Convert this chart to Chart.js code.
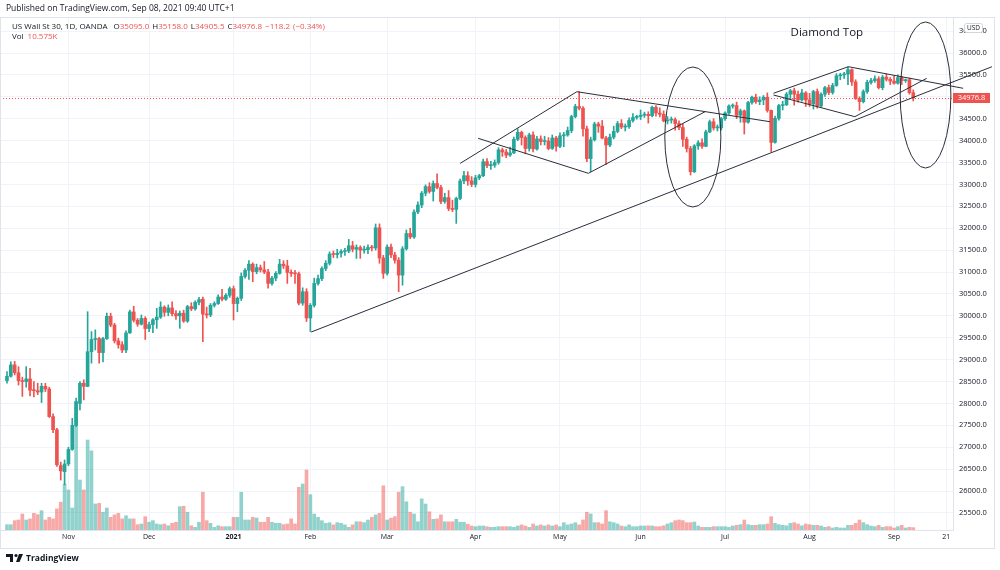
<!DOCTYPE html>
<html>
<head>
<meta charset="utf-8">
<script src="https://cdn.jsdelivr.net/npm/chart.js@4.4.0/dist/chart.umd.min.js"></script>
<style>
html, body { margin: 0; background: #fff; }
canvas { display: block; }
</style>
</head>
<body>
<canvas id="chart" width="1000" height="570"></canvas>
<script>
// daily bars, US Wall St 30 (OANDA), 9 Oct 2020 .. 8 Sep 2021
var opens = [
  28520,28620,28880,28700,28520,28500,28560,28300,28290,28260,
  28390,28330,27700,27400,26580,26440,26620,26950,27500,28000,
  28460,28390,29180,29460,29480,29160,29480,29990,29790,29430,
  29340,29220,29610,30090,29900,29810,29940,29710,29800,29910,
  29970,30200,30080,30180,30050,30000,30060,29880,30210,30160,
  30310,30380,30040,30020,30240,30280,30430,30380,30470,30620,
  30280,30400,30900,31040,31180,31010,31100,31050,31000,30740,
  30860,30970,31180,31140,30990,30970,30960,30290,30550,29950,
  30240,30740,30850,31080,31200,31410,31400,31430,31470,31480,
  31600,31520,31560,31500,31510,31560,31550,32010,31320,30970,
  31570,31390,31270,30930,31530,31880,31800,32370,32530,32800,
  32950,32840,33020,32930,32610,32700,32450,32430,32680,33080,
  33200,33080,33000,33150,33200,33520,33430,33440,33500,33790,
  33740,33670,33720,34030,34190,34070,33820,34130,33810,34040,
  33980,33990,33820,34060,33870,34110,34130,34230,34550,34780,
  34740,34270,33590,34020,34380,34330,34060,33900,34080,34210,
  34390,34310,34320,34460,34530,34550,34580,34600,34570,34760,
  34630,34600,34450,34470,34480,34390,34300,34030,33820,33290,
  33880,33950,33870,34200,34430,34290,34290,34500,34630,34790,
  34800,34580,34680,34420,34870,34990,34890,34930,34990,34690,
  33960,34510,34800,34820,35060,35140,35060,34930,35090,34930,
  34840,35120,34790,35060,35210,35100,35260,35480,35500,35520,
  35620,35340,34960,34890,35120,35330,35370,35410,35210,35450,
  35400,35360,35310,35440,35370,35390,35095
];
var highs = [
  28725,28950,28960,28840,28600,28840,28800,28500,28460,28460,
  28460,28370,27760,27430,26660,26710,27000,27660,28120,28500,
  28540,30095,29640,29680,29510,29510,30060,30060,29830,29490,
  29410,29660,30130,30220,29940,30020,29980,29860,29940,30170,
  30320,30230,30250,30320,30120,30110,30130,30240,30300,30340,
  30420,30430,30200,30280,30320,30480,30605,30510,30660,30680,
  30430,30980,31080,31260,31210,31180,31160,31240,31060,30900,
  31010,31290,31260,31270,31050,31040,31000,30640,30620,30280,
  30860,30930,31120,31260,31460,31480,31520,31510,31540,31745,
  31700,31620,31600,31590,31620,31610,32096,32100,31380,31620,
  31640,31450,31330,31580,31960,32000,32420,32600,32840,32990,
  33040,33080,33240,32980,32800,32860,32640,32710,33120,33300,
  33290,33180,33210,33230,33580,33590,33530,33560,33840,33830,
  33800,33850,34080,34270,34220,34110,34170,34200,34100,34110,
  34100,34070,34130,34100,34180,34190,34310,34580,34830,35118,
  34780,34330,34080,34420,34420,34460,34100,34150,34330,34440,
  34480,34380,34520,34620,34580,34700,34650,34660,34790,34800,
  34750,34680,34550,34540,34520,34450,34380,34080,33870,33910,
  34000,34040,34240,34470,34500,34360,34530,34660,34820,34840,
  34880,34720,34700,34900,35020,35060,35000,35030,35090,34700,
  34560,34830,34900,35100,35170,35200,35130,35170,35120,35080,
  35150,35180,35090,35240,35270,35310,35530,35540,35560,35680,
  35640,35390,35000,35160,35380,35420,35480,35460,35490,35520,
  35440,35480,35500,35470,35410,35430,35158
];
var lows = [
  28460,28600,28650,28420,28160,28370,28170,28150,28200,28020,
  28270,27680,27330,26560,26250,26140,26580,26930,27470,27850,
  28080,28380,28920,29220,28920,28950,29460,29750,29380,29260,
  29160,29160,29600,29860,29760,29790,29460,29640,29615,29714,
  29940,29990,30000,30000,29920,29714,29850,29850,30120,30130,
  30250,29410,29950,29980,30200,30260,30340,30350,30420,29905,
  30095,30350,30860,30830,30780,30960,31000,30960,30630,30700,
  30800,30950,31080,30740,30900,30740,30250,30240,29870,29640,
  30200,30700,30800,31030,31160,31330,31320,31340,31380,31440,
  31460,31310,31312,31430,31420,31480,31500,31200,30855,30930,
  31330,31200,30550,30700,31500,31760,31770,32330,32470,32740,
  32800,32620,32900,32560,32570,32400,32380,32110,32650,33020,
  32980,32950,32940,33110,33180,33380,33340,33390,33460,33640,
  33610,33640,33700,34000,33900,33700,33760,33740,33780,33900,
  33900,33790,33800,33760,33840,33860,34100,34180,34520,34700,
  34100,33520,33291,33990,34190,34040,33450,33860,34040,34180,
  34270,34220,34280,34420,34490,34480,34530,34400,34540,34560,
  34540,34430,34380,34400,34240,34250,33870,33740,33215,33270,
  33800,33820,33860,34180,34240,34220,34240,34460,34600,34740,
  34500,34420,34150,34400,34830,34850,34820,34820,34650,33740,
  33940,34470,34700,34800,34960,34810,34880,34900,34780,34780,
  34720,34740,34770,35010,35050,35060,35240,35390,35420,35280,
  35260,34940,34690,34860,35080,35290,35330,35180,35160,35360,
  35280,35290,35290,35280,35330,35060,34905.5
];
var closes = [
  28620,28880,28700,28520,28500,28560,28300,28290,28260,28390,
  28330,27700,27400,26600,26460,26617,26950,27500,28040,28460,
  28390,29180,29460,29480,29160,29480,29990,29790,29430,29340,
  29220,29610,30090,29900,29810,29940,29710,29800,29910,29970,
  30200,30080,30180,30050,30000,30060,29880,30210,30160,30310,
  30370,30040,30020,30240,30280,30430,30380,30470,30620,30280,
  30400,30900,31040,31180,31010,31100,31050,31000,30740,30860,
  30970,31180,31140,30990,30970,30960,30290,30550,29950,30240,
  30740,30850,31080,31200,31410,31400,31430,31470,31480,31600,
  31520,31560,31500,31510,31560,31550,32010,31320,30970,31570,
  31390,31270,30930,31530,31880,31800,32370,32530,32800,32950,
  32840,33020,32930,32610,32700,32450,32430,32680,33080,33200,
  33080,33000,33150,33200,33520,33430,33440,33500,33790,33740,
  33670,33720,34030,34190,34070,33820,34130,33810,34040,33980,
  33990,33820,34060,33870,34110,34130,34230,34550,34780,34740,
  34270,33590,34020,34380,34330,34060,33900,34080,34210,34390,
  34310,34320,34460,34530,34550,34580,34600,34570,34760,34630,
  34600,34450,34470,34480,34390,34300,34030,33820,33290,33880,
  33950,33870,34200,34430,34290,34290,34500,34630,34790,34800,
  34580,34680,34420,34870,34990,34890,34930,34990,34690,33960,
  34510,34800,34820,35060,35140,35060,34930,35090,34930,34840,
  35120,34790,35060,35210,35100,35260,35480,35500,35520,35620,
  35340,34960,34890,35120,35330,35370,35410,35210,35450,35400,
  35360,35310,35440,35370,35390,35095,34976.8
];
// volume, thousands
var volumes = [
  24,24,42,45,72,45,50,75,69,87,
  45,57,50,95,125,207,180,99,576,225,
  180,405,356,117,120,80,99,57,68,75,
  50,64,50,50,24,27,60,35,42,27,
  24,27,19,30,35,105,107,80,19,12,
  35,170,42,30,12,19,15,15,15,57,
  57,170,45,45,57,54,35,35,57,35,
  30,30,24,27,50,27,192,207,270,159,
  72,57,42,30,33,23,33,30,23,12,
  23,37,37,33,45,57,68,75,199,45,
  53,60,170,195,127,80,72,37,140,117,
  82,48,50,68,37,37,37,48,35,35,
  26,18,15,18,18,15,12,12,15,15,
  15,15,12,18,23,18,12,27,18,23,
  18,23,18,23,15,33,23,27,33,23,
  45,80,72,33,33,27,87,37,33,27,
  18,15,23,15,15,18,18,19,18,15,
  15,19,27,33,42,45,42,33,33,36,
  18,12,12,12,15,15,15,15,12,18,
  21,24,45,24,21,21,24,24,27,60,
  30,24,21,19,30,33,27,19,27,24,
  21,21,18,12,15,9,12,9,9,21,
  21,30,45,33,24,18,15,21,12,15,
  15,9,15,21,9,12,10.575
];

// time axis: bar index of each labelled day
var monthTicks = [16, 37, 59, 79, 99, 122, 144, 165, 187, 209, 231, 244.6];
var monthLabels = ['Nov', 'Dec', '2021', 'Feb', 'Mar', 'Apr', 'May', 'Jun', 'Jul', 'Aug', 'Sep', '21'];
// price axis
var priceTicks = [25500, 26000, 26500, 27000, 27500, 28000, 28500, 29000, 29500, 30000, 30500, 31000,
  31500, 32000, 32500, 33000, 33500, 34000, 34500, 35000, 35500, 36000, 36500];

// drawings on the chart: [barFrom, priceFrom, barTo, priceTo]
var trendLines = [
  [79.2, 29630, 256.5, 35688],
  [118.0, 33480, 148.4, 35117],
  [122.7, 34053, 151.4, 33254],
  [148.4, 35117, 198.7, 34432],
  [151.4, 33254, 181.8, 34661],
  [199.6, 35081, 219.1, 35688],
  [199.6, 35042, 220.8, 34547],
  [219.1, 35688, 249.0, 35195],
  [220.8, 34547, 239.5, 35423]
];
// [centreBar, centrePrice, radiusBars, radiusPrice]
var ellipses = [
  [178.6, 34083, 7.3, 1598],
  [239.2, 35042, 6.6, 1667]
];
var noteText = 'Diamond Top';
var notePos = [213.5, 36458];
var lastPrice = 34976.8;

var green = '#26a69a';
var red = '#ef5350';
var lineColor = '#2a2e39';
var gridColor = '#f0f3fa';

Chart.defaults.font.family = "'Open Sans', sans-serif";

var bars = closes.map(function(c, i) { return i; });
function up(i) { return closes[i] >= opens[i]; }

var bodyData = bars.map(function(i) {
  return { x: i, y: [Math.min(opens[i], closes[i]), Math.max(opens[i], closes[i])] };
});
var wickData = bars.map(function(i) { return { x: i, y: [lows[i], highs[i]] }; });
var volData = bars.map(function(i) { return { x: i, y: volumes[i] }; });
var candleColors = bars.map(function(i) { return up(i) ? green : red; });
var volColors = bars.map(function(i) { return up(i) ? 'rgba(38,166,154,0.5)' : 'rgba(239,83,80,0.5)'; });

var datasets = [
  { type: 'bar', data: volData, yAxisID: 'yv', backgroundColor: volColors, barThickness: 3, grouped: false, order: 5 },
  { type: 'bar', data: wickData, yAxisID: 'y', backgroundColor: candleColors, barThickness: 1, grouped: false, order: 4 },
  { type: 'bar', data: bodyData, yAxisID: 'y', backgroundColor: candleColors, barThickness: 3, grouped: false, minBarLength: 1, order: 3 }
];
trendLines.forEach(function(t) {
  datasets.push({
    type: 'line', yAxisID: 'y',
    data: [{ x: t[0], y: t[1] }, { x: t[2], y: t[3] }],
    borderColor: lineColor, borderWidth: 1, pointRadius: 0, clip: false, order: 1
  });
});

function drawText(ctx, parts, x, y) {
  parts.forEach(function(p) {
    ctx.fillStyle = p[1];
    ctx.fillText(p[0], x, y);
    x += ctx.measureText(p[0]).width + (p[2] || 0);
  });
}

var overlay = {
  id: 'overlay',
  beforeDatasetsDraw: function(chart) {
    var ctx = chart.ctx, a = chart.chartArea;
    var y = Math.round(chart.scales.y.getPixelForValue(lastPrice)) + 0.5;
    ctx.save();
    ctx.strokeStyle = red;
    ctx.lineWidth = 1;
    ctx.setLineDash([1, 2]);
    ctx.beginPath();
    ctx.moveTo(a.left, y);
    ctx.lineTo(a.right, y);
    ctx.stroke();
    ctx.restore();
  },
  afterDraw: function(chart) {
    var ctx = chart.ctx, xs = chart.scales.x, ys = chart.scales.y, a = chart.chartArea;
    ctx.save();

    // frame
    ctx.strokeStyle = '#e0e3eb';
    ctx.lineWidth = 1;
    ctx.strokeRect(0.5, 17.5, 994, 531);

    // ellipses
    ctx.strokeStyle = lineColor;
    ellipses.forEach(function(e) {
      var cx = xs.getPixelForValue(e[0]), cy = ys.getPixelForValue(e[1]);
      var rx = xs.getPixelForValue(e[0] + e[2]) - cx;
      var ry = ys.getPixelForValue(e[1] - e[3]) - cy;
      ctx.beginPath();
      ctx.ellipse(cx, cy, rx, ry, 0, 0, Math.PI * 2);
      ctx.stroke();
    });

    // note
    ctx.fillStyle = '#131722';
    ctx.font = "11.5px 'Open Sans', sans-serif";
    ctx.textAlign = 'center';
    ctx.textBaseline = 'middle';
    ctx.fillText(noteText, xs.getPixelForValue(notePos[0]), ys.getPixelForValue(notePos[1]));

    // last price label
    var py = ys.getPixelForValue(lastPrice);
    ctx.fillStyle = red;
    ctx.fillRect(a.right, Math.round(py) - 5, 37, 10);
    ctx.fillStyle = '#fff';
    ctx.font = "7.5px 'Open Sans', sans-serif";
    ctx.fillText(lastPrice.toFixed(1), a.right + 18.5, Math.round(py));

    // currency box
    ctx.fillStyle = '#fff';
    ctx.strokeStyle = '#d1d4dc';
    ctx.beginPath();
    ctx.roundRect(964.5, 23.5, 18, 9, 2);
    ctx.fill();
    ctx.stroke();
    ctx.fillStyle = '#131722';
    ctx.font = "6.5px 'Open Sans', sans-serif";
    ctx.fillText('USD', 973.5, 28.3);

    // header and legend
    ctx.textAlign = 'left';
    ctx.font = "8.5px 'Open Sans', sans-serif";
    ctx.fillStyle = '#131722';
    ctx.fillText('Published on TradingView.com, Sep 08, 2021 09:40 UTC+1', 6, 9);

    var dark = '#131722';
    ctx.font = "8px 'Open Sans', sans-serif";
    drawText(ctx, [
      ['US Wall St 30, 1D, OANDA', dark, 6],
      ['O', dark], ['35095.0', red, 3],
      ['H', dark], ['35158.0', red, 3],
      ['L', dark], ['34905.5', red, 3],
      ['C', dark], ['34976.8', red, 3],
      ['\u2212118.2', red, 3],
      ['(\u22120.34%)', red]
    ], 12, 27);
    drawText(ctx, [['Vol', dark, 4], ['10.575K', red]], 12, 37);

    // footer logo
    ctx.fillStyle = '#131722';
    ctx.beginPath();
    ctx.moveTo(6, 554); ctx.lineTo(13, 554); ctx.lineTo(13, 562); ctx.lineTo(10, 562); ctx.lineTo(10, 557); ctx.lineTo(6, 557);
    ctx.closePath();
    ctx.fill();
    ctx.beginPath();
    ctx.arc(16, 555.5, 1.6, 0, Math.PI * 2);
    ctx.fill();
    ctx.beginPath();
    ctx.moveTo(19, 554); ctx.lineTo(23, 554); ctx.lineTo(19.5, 562); ctx.lineTo(16, 562);
    ctx.closePath();
    ctx.fill();
    ctx.font = "bold 8.5px 'Open Sans', sans-serif";
    ctx.fillText('TradingView', 26, 558.5);

    ctx.restore();
  }
};

new Chart(document.getElementById('chart'), {
  type: 'bar',
  data: { datasets: datasets },
  options: {
    responsive: false,
    devicePixelRatio: 1,
    animation: false,
    layout: { padding: { top: 18, bottom: 22, left: 0, right: 6 } },
    plugins: { legend: { display: false }, tooltip: { enabled: false } },
    scales: {
      x: {
        type: 'linear',
        min: -1.82,
        max: 246.35,
        offset: false,
        grid: { color: gridColor, drawTicks: false, offset: false },
        border: { color: '#e0e3eb' },
        afterBuildTicks: function(s) {
          s.ticks = monthTicks.map(function(v) { return { value: v }; });
        },
        afterFit: function(s) { s.height = 18; },
        ticks: {
          autoSkip: false,
          maxRotation: 0,
          padding: 3,
          color: '#131722',
          font: function(c) {
            return { size: 7, weight: c.tick && c.tick.value === 59 ? 'bold' : 'normal' };
          },
          callback: function(v) {
            var k = monthTicks.indexOf(v);
            return k < 0 ? '' : monthLabels[k];
          }
        }
      },
      y: {
        position: 'right',
        min: 25110,
        max: 36800,
        grid: { color: gridColor, drawTicks: false },
        border: { color: '#e0e3eb' },
        afterBuildTicks: function(s) {
          s.ticks = priceTicks.map(function(v) { return { value: v }; });
        },
        afterFit: function(s) { s.width = 41; },
        ticks: {
          autoSkip: false,
          padding: 6,
          color: '#131722',
          font: { size: 7.5 },
          callback: function(v) { return v.toFixed(1); }
        }
      },
      yv: {
        display: false,
        min: 0,
        max: 2304
      }
    }
  },
  plugins: [overlay]
});
</script>
</body>
</html>
